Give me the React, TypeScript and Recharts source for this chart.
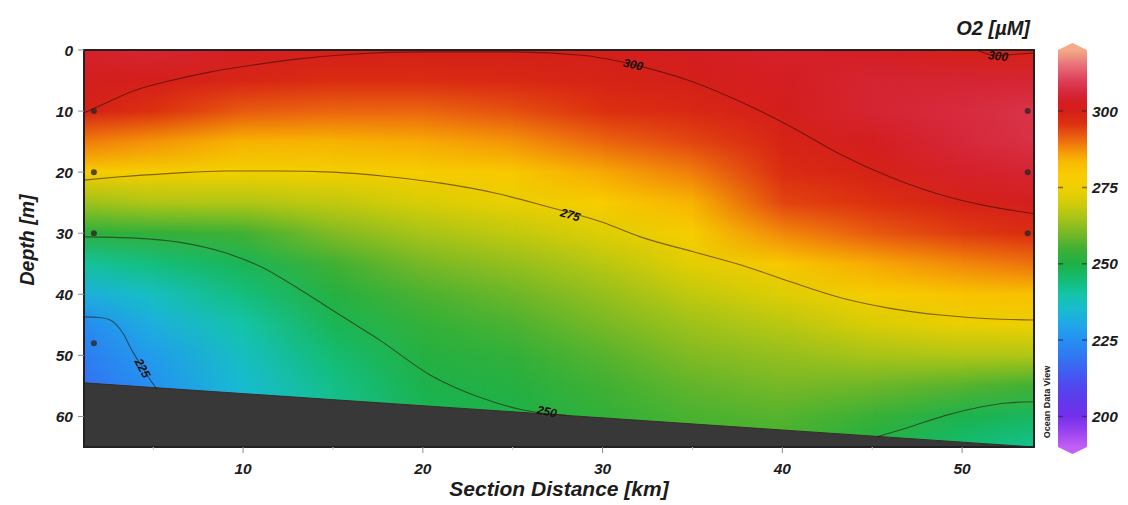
import React from "react";
import {
  Area,
  ComposedChart,
  Line,
  ReferenceArea,
  ReferenceLine,
  Scatter,
  XAxis,
  YAxis,
} from "recharts";

// section grid: km along the track, m below surface
const distances = [1.15, 5, 10, 15, 20, 25, 30, 35, 40, 45, 50, 54];
const depths = [0, 5, 10, 15, 20, 25, 30, 35, 40, 45, 50, 55, 60, 65];

const o2Km1 = [304, 302, 299.5, 289, 279, 264, 252, 241, 232, 224, 221, 219, 218, 217];
const o2Km5 = [305, 301, 296, 287, 277, 266, 253, 244, 237, 232, 228, 225.5, 224, 223];
const o2Km10 = [303, 298.5, 292, 284, 275.5, 266, 255, 248, 244, 240, 237, 235, 234, 233];
const o2Km15 = [301, 297, 291, 284, 276, 268, 261, 255, 251, 248, 245, 243, 242, 241];
const o2Km20 = [300.5, 297, 291, 285, 278, 271, 265, 260, 256, 253, 251, 249, 248, 247];
const o2Km25 = [300.5, 298, 293, 287, 280, 274, 268, 263, 259, 256, 253, 251, 249.5, 248];
const o2Km30 = [301, 299, 296, 291, 285, 279, 272, 267, 263, 260, 257, 255, 253, 252];
const o2Km35 = [303, 300.5, 298, 294, 289, 284, 278, 273, 268, 264, 261, 258, 256, 255];
const o2Km40 = [304, 303, 301, 299, 297, 294, 288, 280, 272, 267, 263, 260, 257, 255];
const o2Km45 = [303, 305, 305, 302.5, 299.5, 296, 292, 285, 278, 271, 265, 259, 254, 250];
const o2Km50 = [300.3, 305, 306.5, 306, 304, 299.5, 295, 288, 281, 274, 266, 257, 249, 245];
const o2Km54 = [299.5, 305, 308, 307.5, 305, 302, 297, 290, 282, 274.5, 266, 255, 247, 242];

const o2Columns = [o2Km1, o2Km5, o2Km10, o2Km15, o2Km20, o2Km25, o2Km30, o2Km35, o2Km40, o2Km45, o2Km50, o2Km54];

// bottom topography
const seafloor = [
  { x: 1.15, depth: 54.5 },
  { x: 54, depth: 65 },
];

// isolines
const contour300 = [
  { x: 1.15, depth: 10.3 }, { x: 2.5, depth: 8.5 }, { x: 4, depth: 6.6 }, { x: 6, depth: 5 },
  { x: 8, depth: 3.7 }, { x: 10, depth: 2.7 }, { x: 13, depth: 1.5 }, { x: 16, depth: 0.7 },
  { x: 20, depth: 0.3 }, { x: 25, depth: 0.3 }, { x: 29, depth: 0.9 }, { x: 32, depth: 2.6 },
  { x: 35, depth: 5.2 }, { x: 37.7, depth: 8.5 }, { x: 40.5, depth: 12.6 }, { x: 43.3, depth: 17.2 },
  { x: 46, depth: 20.8 }, { x: 48.8, depth: 23.7 }, { x: 51.5, depth: 25.6 }, { x: 54, depth: 26.8 },
];
const contour300Top = [
  { x: 50.8, depth: 0 }, { x: 51.9, depth: 0.9 }, { x: 53, depth: 0.7 }, { x: 54, depth: 0.5 },
];
const contour275 = [
  { x: 1.15, depth: 21.3 }, { x: 3, depth: 20.8 }, { x: 6, depth: 20.2 }, { x: 9, depth: 19.8 },
  { x: 12, depth: 19.8 }, { x: 15, depth: 20 }, { x: 18, depth: 20.7 }, { x: 21, depth: 21.8 },
  { x: 24, depth: 23.4 }, { x: 27, depth: 25.7 }, { x: 30, depth: 28.2 }, { x: 32.1, depth: 30.6 },
  { x: 35, depth: 33 }, { x: 37.7, depth: 35.2 }, { x: 40.5, depth: 38 }, { x: 43.3, depth: 40.6 },
  { x: 46, depth: 42.3 }, { x: 48.8, depth: 43.4 }, { x: 51.5, depth: 44 }, { x: 54, depth: 44.2 },
];
const contour250 = [
  { x: 1.15, depth: 30.6 }, { x: 4, depth: 30.8 }, { x: 6.5, depth: 31.5 }, { x: 9, depth: 33.2 },
  { x: 11, depth: 35.5 }, { x: 13.2, depth: 39.3 }, { x: 15.5, depth: 43.6 }, { x: 17.6, depth: 47.5 },
  { x: 20.4, depth: 53.2 }, { x: 23.2, depth: 56.9 }, { x: 25.5, depth: 58.9 }, { x: 28, depth: 59.8 },
];
const contour250Right = [
  { x: 45.3, depth: 63.3 }, { x: 47, depth: 61.8 }, { x: 49, depth: 59.9 }, { x: 51.1, depth: 58.4 },
  { x: 52.5, depth: 57.8 }, { x: 54, depth: 57.6 },
];
const contour225 = [
  { x: 1.15, depth: 43.7 }, { x: 2, depth: 43.8 }, { x: 2.6, depth: 44.2 }, { x: 3.3, depth: 46.3 },
  { x: 3.8, depth: 49.1 }, { x: 4.3, depth: 51.5 }, { x: 4.9, depth: 54.3 }, { x: 5.2, depth: 55.5 },
];
const contours = [contour300, contour300Top, contour275, contour250, contour250Right, contour225];

const contourLabels = [
  { level: 300, x: 31.7, depth: 2.4 },
  { level: 300, x: 52.0, depth: 1.0 },
  { level: 275, x: 28.2, depth: 27.0 },
  { level: 250, x: 26.9, depth: 59.2 },
  { level: 225, x: 4.4, depth: 52.1 },
];
const labelTilt = [12, 6, 16, 12, 62];

// sample positions
const stations = [
  { x: 1.7, depth: 10 }, { x: 1.7, depth: 20 }, { x: 1.7, depth: 30 }, { x: 1.7, depth: 48 },
  { x: 53.65, depth: 10 }, { x: 53.65, depth: 20 }, { x: 53.65, depth: 30 },
];

const xTicks = [5, 10, 15, 20, 25, 30, 35, 40, 45, 50];
const yTicks = [0, 10, 20, 30, 40, 50, 60];
const barTicks = [200, 225, 250, 275, 300];
const barRange = [
  { x: 0, v: 190 },
  { x: 1, v: 320 },
];

// ODV-like palette
const palette: [number, string][] = [
  [190, "#c060f5"], [195, "#9a44f0"], [200, "#7230ea"], [205, "#6038ea"], [210, "#5048ee"],
  [215, "#3f60f2"], [220, "#3078f2"], [225, "#2490f2"], [230, "#20a6e8"], [235, "#18bcd0"],
  [240, "#14c4a8"], [245, "#14bc72"], [250, "#1eb044"], [255, "#40b034"], [260, "#78b826"],
  [265, "#a8c418"], [270, "#d2cc08"], [275, "#f0d000"], [279, "#f8cc00"], [283, "#f8bc00"],
  [286, "#f6a006"], [289, "#f07c0c"], [292, "#e85a10"], [296, "#dc3010"], [300, "#d42018"],
  [303, "#d41e22"], [306, "#d6283a"], [310, "#dc4058"], [315, "#e87078"], [320, "#f4aa88"],
];

const hex = (c: string) => [1, 3, 5].map((i) => parseInt(c.slice(i, i + 2), 16));
const colorOf = (v: number) => {
  if (v <= palette[0][0]) return palette[0][1];
  for (let i = 1; i < palette.length; i++) {
    const [v1, c1] = palette[i];
    if (v <= v1) {
      const [v0, c0] = palette[i - 1];
      const t = (v - v0) / (v1 - v0);
      const a = hex(c0);
      const b = hex(c1);
      return `rgb(${a.map((p, k) => Math.round(p + (b[k] - p) * t)).join(",")})`;
    }
  }
  return palette[palette.length - 1][1];
};

const font = "'Liberation Sans', Arial, Helvetica, sans-serif";
const tickFont = { fontFamily: font, fontWeight: 700, fontStyle: "italic", fontSize: 15.5, fill: "#1c1c1c" } as const;
const titleFont = { fontFamily: font, fontWeight: 700, fontStyle: "italic", fill: "#1c1c1c" } as const;

const XTick = (p: any) => {
  const v = p.payload.value;
  const major = v % 10 === 0;
  return (
    <g>
      <line x1={p.x} x2={p.x} y1={p.y - 6} y2={p.y - (major ? 0 : 3)} stroke={major ? "#8c8c8c" : "#c4c4c4"} />
      {major && (
        <text x={p.x} y={p.y + 21} textAnchor="middle" style={tickFont}>
          {v}
        </text>
      )}
    </g>
  );
};

const YTick = (p: any) => (
  <g>
    <line x1={p.x} x2={p.x + 6} y1={p.y} y2={p.y} stroke="#8c8c8c" />
    <text x={p.x - 5} y={p.y + 5.5} textAnchor="end" style={tickFont}>
      {p.payload.value}
    </text>
  </g>
);

const BarTick = (p: any) => (
  <text x={p.x + 1} y={p.y + 5.5} textAnchor="start" style={tickFont}>
    {p.payload.value}
  </text>
);

// one strip between two profiles, blended left to right
const stripShape = (i: number) => (p: any) => (
  <g>
    <rect x={p.x} y={p.y} width={p.width + 1} height={p.height} fill={`url(#o2col${i})`} />
    <rect
      x={p.x}
      y={p.y}
      width={p.width + 1}
      height={p.height}
      fill={`url(#o2col${i + 1})`}
      mask="url(#fadeRight)"
    />
  </g>
);

const LabelShape = (p: any) => {
  const i = contourLabels.indexOf(p.payload);
  const tilt = labelTilt[i] ?? 0;
  return (
    <text
      x={p.cx}
      y={p.cy}
      transform={`rotate(${tilt} ${p.cx} ${p.cy})`}
      textAnchor="middle"
      dominantBaseline="central"
      style={{ fontFamily: font, fontWeight: 700, fontStyle: "italic", fontSize: 12, fill: "#151010" }}
    >
      {p.payload.level}
    </text>
  );
};

const StationDot = (p: any) => <circle cx={p.cx} cy={p.cy} r={3} fill="#2e2626" fillOpacity={0.8} />;

const ColorbarShape = (p: any) => {
  const { x, y, width: w, height: h } = p;
  const tip = 7;
  const d = `M${x},${y} L${x + w / 2},${y - tip} L${x + w},${y} L${x + w},${y + h} L${x + w / 2},${y + h + tip} L${x},${y + h} Z`;
  return (
    <g>
      <defs>
        <linearGradient id="cbarGrad" gradientUnits="userSpaceOnUse" x1={0} y1={y} x2={0} y2={y + h}>
          {palette
            .slice()
            .reverse()
            .map(([v, c]) => (
              <stop key={v} offset={(320 - v) / 130} stopColor={c} />
            ))}
        </linearGradient>
      </defs>
      <path d={d} fill="url(#cbarGrad)" />
    </g>
  );
};

const SectionChart = () => (
  <ComposedChart width={1128} height={505} margin={{ top: 50, right: 94, bottom: 0, left: 0 }}>
    <defs>
      {o2Columns.map((col, i) => (
        <linearGradient key={i} id={`o2col${i}`} x1="0" y1="0" x2="0" y2="1">
          {col.map((v, k) => (
            <stop key={k} offset={depths[k] / 65} stopColor={colorOf(v)} />
          ))}
        </linearGradient>
      ))}
      <linearGradient id="fadeGrad" x1="0" y1="0" x2="1" y2="0">
        <stop offset="0" stopColor="#fff" stopOpacity={0} />
        <stop offset="1" stopColor="#fff" stopOpacity={1} />
      </linearGradient>
      <mask id="fadeRight" maskContentUnits="objectBoundingBox" style={{ maskType: "alpha" } as any}>
        <rect x="0" y="0" width="1" height="1" fill="url(#fadeGrad)" />
      </mask>
    </defs>
    <XAxis
      type="number"
      dataKey="x"
      domain={[1.15, 54]}
      ticks={xTicks}
      interval={0}
      allowDataOverflow
      height={58}
      axisLine={false}
      tickLine={false}
      tickSize={6}
      tickMargin={0}
      tick={<XTick />}
    />
    <YAxis
      type="number"
      dataKey="depth"
      domain={[0, 65]}
      reversed
      ticks={yTicks}
      interval={0}
      allowDataOverflow
      width={84}
      axisLine={false}
      tickLine={false}
      tickSize={6}
      tickMargin={0}
      tick={<YTick />}
    />
    {distances.slice(0, -1).map((d, i) => (
      <ReferenceArea
        key={d}
        x1={d}
        x2={distances[i + 1]}
        y1={0}
        y2={65}
        ifOverflow="visible"
        shape={stripShape(i)}
      />
    ))}
    <Area
      data={seafloor}
      dataKey="depth"
      type="linear"
      baseValue={65}
      fill="#383838"
      fillOpacity={1}
      stroke="#3a2a28"
      strokeWidth={1}
      isAnimationActive={false}
      zIndex={150}
    />
    {contours.map((c, i) => (
      <Line
        key={i}
        data={c}
        dataKey="depth"
        type="monotone"
        dot={false}
        activeDot={false}
        stroke="#2a0c06"
        strokeOpacity={0.55}
        strokeWidth={1.1}
        isAnimationActive={false}
      />
    ))}
    <Scatter data={contourLabels} dataKey="depth" shape={LabelShape} isAnimationActive={false} />
    <Scatter data={stations} dataKey="depth" shape={StationDot} isAnimationActive={false} />
    <ReferenceArea
      x1={1.15}
      x2={54}
      y1={0}
      y2={65}
      ifOverflow="visible"
      fill="none"
      fillOpacity={0}
      stroke="#222"
      strokeWidth={2}
      zIndex={900}
    />
  </ComposedChart>
);

const ColorBar = () => (
  <ComposedChart width={88} height={440} data={barRange} margin={{ top: 20, right: 0, bottom: 23, left: 18 }}>
    <XAxis type="number" dataKey="x" domain={[0, 1]} hide />
    <YAxis
      type="number"
      dataKey="v"
      orientation="right"
      domain={[190, 320]}
      ticks={barTicks}
      interval={0}
      allowDataOverflow
      width={41}
      axisLine={false}
      tickLine={false}
      tickSize={0}
      tickMargin={4}
      tick={<BarTick />}
    />
    <ReferenceArea x1={0} x2={1} y1={190} y2={320} ifOverflow="visible" shape={ColorbarShape} />
    {barTicks.map((t) => (
      <ReferenceLine
        key={t}
        y={t}
        stroke="#3a1a1a"
        strokeOpacity={0.6}
        strokeWidth={1.5}
        strokeDasharray="5 19"
      />
    ))}
  </ComposedChart>
);

export default function App() {
  return (
    <div style={{ position: "absolute", left: 0, top: 0, width: 1128, height: 505, background: "#fff" }}>
      <div style={{ position: "absolute", left: 0, top: 0 }}>
        <SectionChart />
      </div>
      <div style={{ position: "absolute", left: 1040, top: 30 }}>
        <ColorBar />
      </div>
      <svg
        width={1128}
        height={505}
        style={{ position: "absolute", left: 0, top: 0, pointerEvents: "none" }}
      >
        <text x={1030} y={35} textAnchor="end" style={{ ...titleFont, fontSize: 20 }}>
          O2 [µM]
        </text>
        <text transform="translate(34,240) rotate(-90)" textAnchor="middle" style={{ ...titleFont, fontSize: 19.5 }}>
          Depth [m]
        </text>
        <text x={559} y={496} textAnchor="middle" style={{ ...titleFont, fontSize: 21 }}>
          Section Distance [km]
        </text>
        <text
          transform="translate(1050,402) rotate(-90)"
          textAnchor="middle"
          style={{ fontFamily: font, fontWeight: 700, fontSize: 9, fill: "#222" }}
        >
          Ocean Data View
        </text>
      </svg>
    </div>
  );
}
